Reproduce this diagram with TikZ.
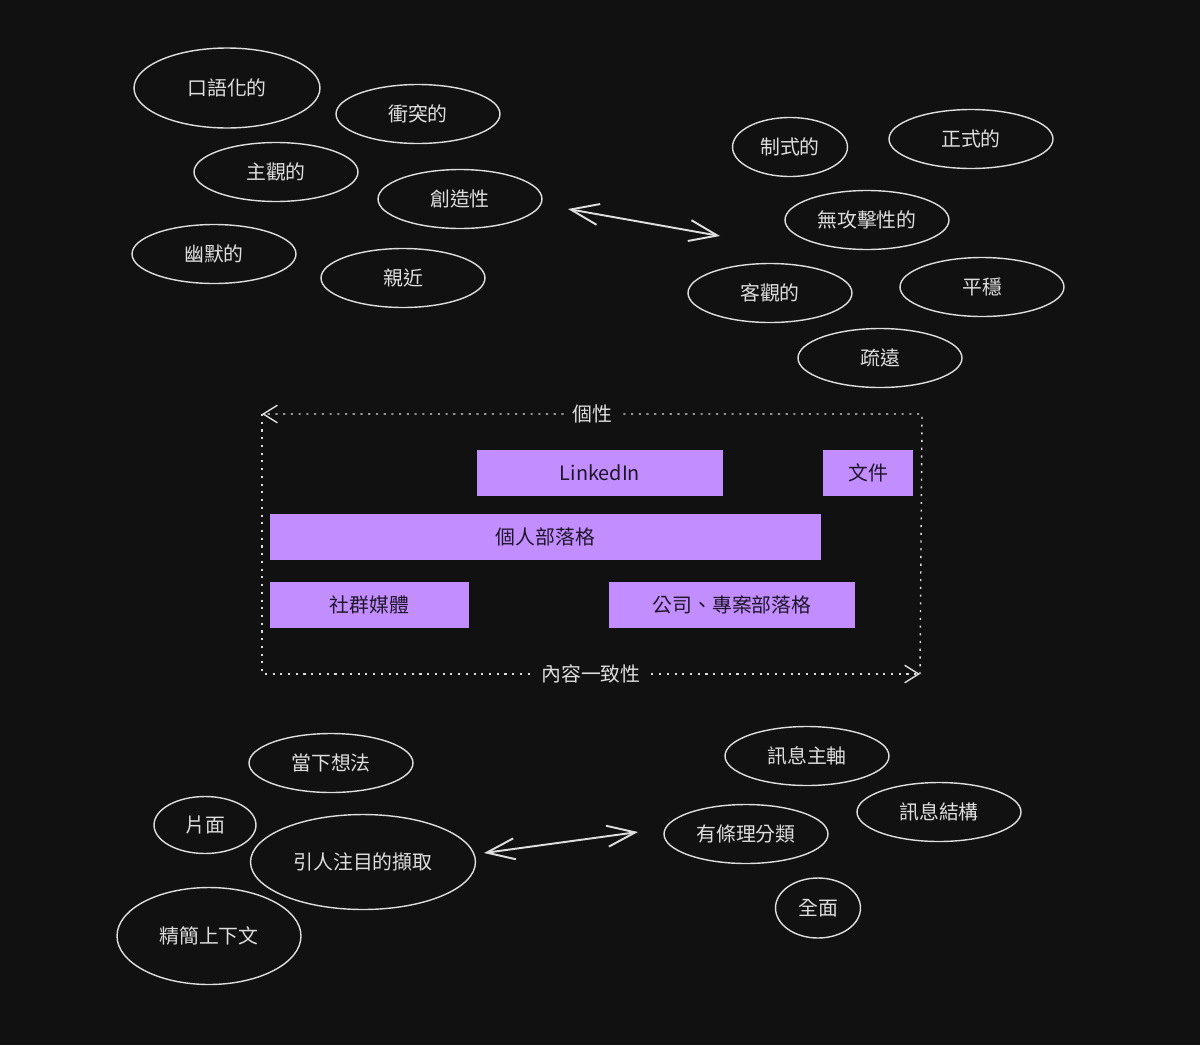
\documentclass[tikz,border=0pt]{standalone}
\usepackage{fontspec}
\setmainfont{Noto Sans CJK TC}
\usepackage{tikz}
\usetikzlibrary{shapes.geometric,arrows.meta,positioning,calc}

\definecolor{bg}{HTML}{111111}
\definecolor{ink}{HTML}{DEDEDE}
\definecolor{lilac}{HTML}{C28EFF}
\definecolor{plum}{HTML}{1E1528}

\tikzset{
	bubble/.style={ellipse, draw=ink, line width=0.8pt, text=ink, inner sep=0pt,
		minimum width=3.28cm, minimum height=1.18cm},
	bar/.style={rectangle, fill=lilac, text=plum, inner sep=0pt,
		minimum width=4.92cm, minimum height=0.92cm},
	frame/.style={draw=ink, line width=0.8pt, dash pattern=on 1.2pt off 3.2pt},
	tag/.style={fill=bg, text=ink, inner sep=4pt},
	link/.style={draw=ink, line width=1.1pt},
}

\begin{document}
\begin{tikzpicture}[x=0.02cm,y=-0.02cm,
		>={Straight Barb[length=16pt,width=12pt]},
		font=\fontsize{11.3}{13}\selectfont]
		\fill[bg] (0,0) rectangle (1200,1045);

		% personal tone
		\node[bubble, minimum width=3.72cm, minimum height=1.6cm] (oral) at (227,88) {口語化的};
		\node[bubble] (clash) at (418,114) {衝突的};
		\node[bubble] (subj) at (276,172) {主觀的};
		\node[bubble] (creat) at (460,199) {創造性};
		\node[bubble] (humor) at (214,254) {幽默的};
		\node[bubble] (close) at (403,278) {親近};

		% formal tone
		\node[bubble, minimum width=2.3cm] (rigid) at (790,147) {制式的};
		\node[bubble] (formal) at (971,139) {正式的};
		\node[bubble] (mild) at (867,220) {無攻擊性的};
		\node[bubble] (obj) at (770,293) {客觀的};
		\node[bubble] (calm) at (982,287) {平穩};
		\node[bubble] (far) at (880,358) {疏遠};

		\coordinate (ta) at (568,209);
		\coordinate (tb) at (720,236);
		\draw[<->, link] (ta) -- (tb);

		% channels
		\coordinate (tl) at (262,414);
		\coordinate (tr) at (922,414);
		\coordinate (bl) at (262,674);
		\coordinate (br) at (920,674);

		\node[bar] (lnkd) at (600,472.5) {LinkedIn};
		\node[bar, minimum width=1.8cm] (docs) at (868,472.5) {文件};
		\node[bar, minimum width=11.02cm] (blog) at (545.5,537) {個人部落格};
		\node[bar, minimum width=3.98cm] (social) at (369.5,605) {社群媒體};
		\node[bar] (corp) at (732,605) {公司、專案部落格};

		\path[frame, -{Straight Barb[length=8pt,width=10pt]}]
			(br) -- (tr) -- node[tag] {個性} (tl);
		\path[frame, -{Straight Barb[length=8pt,width=10pt]}]
			(tl) -- (bl) -- node[tag] {內容一致性} (br);

		% message scope
		\node[bubble] (now) at (331,763) {當下想法};
		\node[bubble, minimum width=2.04cm, minimum height=1.14cm] (part) at (205,825) {片面};
		\node[bubble, minimum width=4.5cm, minimum height=1.9cm] (hook) at (363,862) {引人注目的擷取};
		\node[bubble, minimum width=3.68cm, minimum height=1.94cm] (brief) at (209,936) {精簡上下文};

		\node[bubble] (axis) at (807,756) {訊息主軸};
		\node[bubble] (struct) at (939,812) {訊息結構};
		\node[bubble] (sort) at (746,834) {有條理分類};
		\node[bubble, minimum width=1.7cm, minimum height=1.2cm] (whole) at (818,908) {全面};

		\coordinate (ca) at (484,853);
		\coordinate (cb) at (638,832);
		\draw[<->, link] (ca) -- (cb);
	\end{tikzpicture}
\end{document}
